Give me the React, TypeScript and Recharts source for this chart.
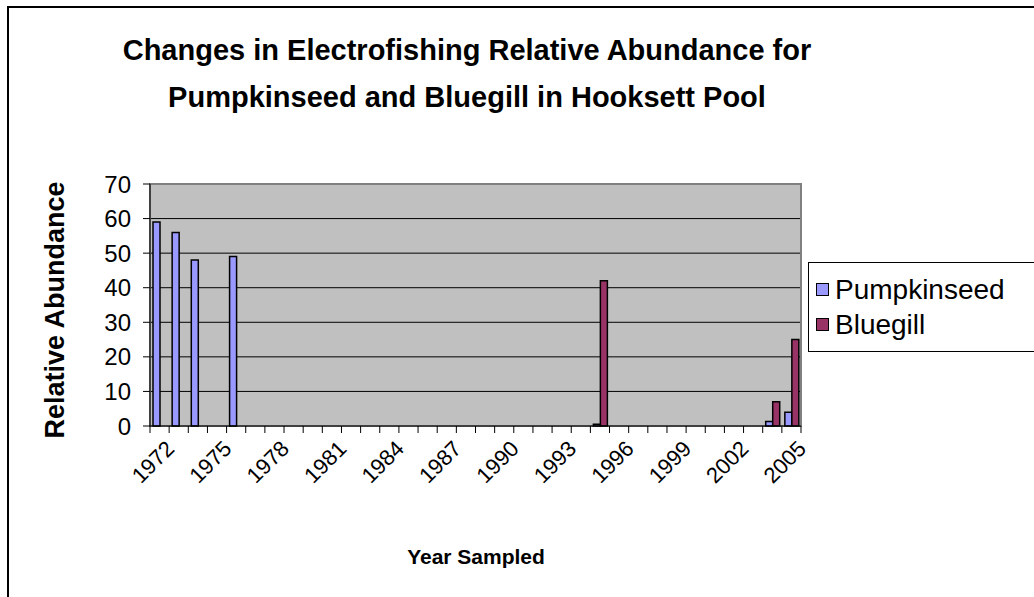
import React from 'react';
import {
   BarChart,
   Bar,
   XAxis,
   YAxis,
   CartesianGrid,
   ReferenceArea,
} from 'recharts';

// Years on the category axis
const years = [
   '1972', '1973', '1974', '1975', '1976', '1977', '1978', '1979', '1980',
   '1981', '1982', '1983', '1984', '1985', '1986', '1987', '1988', '1989',
   '1990', '1991', '1992', '1993', '1994', '1995', '1996', '1997', '1998',
   '1999', '2000', '2001', '2002', '2003', '2004', '2005',
];

// Relative abundance, null where not sampled
const pumpkinseed = [
   59, 56, 48, null, 49, null, null, null, null,
   null, null, null, null, null, null, null, null, null,
   null, null, null, null, null, 0.5, null, null, null,
   null, null, null, null, null, 1.3, 4,
];

const bluegill = [
   null, null, null, null, null, null, null, null, null,
   null, null, null, null, null, null, null, null, null,
   null, null, null, null, null, 42, null, null, null,
   null, null, null, null, null, 7, 25,
];

const yTicks = [0, 10, 20, 30, 40, 50, 60, 70];

const series = [
   { name: 'Pumpkinseed', color: '#9999FF' },
   { name: 'Bluegill', color: '#993366' },
];

const data = years.map((y, i) => ({
   year: y,
   Pumpkinseed: pumpkinseed[i],
   Bluegill: bluegill[i],
}));

const FONT = '"Liberation Sans", Arial, sans-serif';
const PLOT_LEFT = 150;
const PLOT_RIGHT = 801;
const PLOT_TOP = 184;
const PLOT_BOTTOM = 426;
const BAND = (PLOT_RIGHT - PLOT_LEFT) / years.length;

const XTick: React.FC<any> = ({ x, y, payload, index }) => {
   const half = BAND / 2;
   return (
      <g>
         <line x1={x - half} x2={x - half} y1={y} y2={y + 7} stroke="#000" />
         {index === years.length - 1 && (
            <line x1={x + half} x2={x + half} y1={y} y2={y + 7} stroke="#000" />
         )}
         {index % 3 === 0 && (
            <text
               transform={`translate(${x + 16},${y + 24}) rotate(-45)`}
               textAnchor="end"
               fontSize={22}
               fontFamily={FONT}
               fill="#000"
            >
               {payload.value}
            </text>
         )}
      </g>
   );
};

const App: React.FC = () => {
   return (
      <div style={{ position: 'absolute', left: 0, top: 0, width: 1034, height: 597, overflow: 'hidden', background: '#fff' }}>
         <div
            style={{
               position: 'absolute',
               left: 7,
               top: 6,
               width: 1040,
               height: 600,
               border: '2px solid #000',
               boxSizing: 'border-box',
            }}
         />
         <div
            style={{
               position: 'absolute',
               left: 0,
               width: 934,
               top: 27,
               textAlign: 'center',
               fontFamily: FONT,
               fontWeight: 'bold',
               fontSize: 29,
               lineHeight: '47px',
            }}
         >
            Changes in Electrofishing Relative Abundance for
            <br />
            Pumpkinseed and Bluegill in Hooksett Pool
         </div>
         <div
            style={{
               position: 'absolute',
               left: 55,
               top: 310,
               transform: 'translate(-50%, -50%) rotate(-90deg)',
               whiteSpace: 'nowrap',
               fontFamily: FONT,
               fontWeight: 'bold',
               fontSize: 27,
            }}
         >
            Relative Abundance
         </div>
         <div
            style={{
               position: 'absolute',
               left: 476,
               top: 557,
               transform: 'translate(-50%, -50%)',
               whiteSpace: 'nowrap',
               fontFamily: FONT,
               fontWeight: 'bold',
               fontSize: 21,
            }}
         >
            Year Sampled
         </div>
         <div
            style={{
               position: 'absolute',
               left: 808,
               top: 262,
               width: 260,
               height: 90,
               border: '1px solid #000',
               background: '#fff',
               boxSizing: 'border-box',
               fontFamily: FONT,
               fontSize: 28,
               padding: '9px 0 0 7px',
            }}
         >
            {series.map((it) => (
               <div key={it.name} style={{ display: 'flex', alignItems: 'center', height: 35 }}>
                  <span
                     style={{
                        display: 'inline-block',
                        width: 11,
                        height: 11,
                        background: it.color,
                        border: '1.5px solid #000',
                        marginRight: 6,
                     }}
                  />
                  {it.name}
               </div>
            ))}
         </div>
         <div style={{ position: 'absolute', left: 0, top: 0 }}>
            <BarChart
               width={1034}
               height={597}
               data={data}
               barGap={0}
               barSize={7}
               margin={{ top: PLOT_TOP, right: 1034 - PLOT_RIGHT, left: 0, bottom: 0 }}
            >
               <CartesianGrid
                  vertical={false}
                  stroke="#000"
                  fill="#C0C0C0"
                  fillOpacity={1}
               />
               <ReferenceArea y1={0} y2={70} fill="none" stroke="#808080" strokeWidth={2} ifOverflow="visible" />
               <XAxis
                  dataKey="year"
                  interval={0}
                  height={597 - PLOT_BOTTOM}
                  tickSize={0}
                  tickMargin={0}
                  tickLine={false}
                  axisLine={{ stroke: '#000' }}
                  tick={<XTick />}
               />
               <YAxis
                  width={PLOT_LEFT}
                  domain={[0, 70]}
                  ticks={yTicks}
                  interval={0}
                  tickSize={7}
                  tickMargin={12}
                  axisLine={{ stroke: '#000' }}
                  tickLine={{ stroke: '#000' }}
                  tick={{ fill: '#000', fontSize: 24, fontFamily: FONT }}
               />
               {series.map((s) => (
                  <Bar
                     key={s.name}
                     dataKey={s.name}
                     fill={s.color}
                     stroke="#000"
                     strokeWidth={1.5}
                     isAnimationActive={false}
                  />
               ))}
            </BarChart>
         </div>
      </div>
   );
};

export default App;
